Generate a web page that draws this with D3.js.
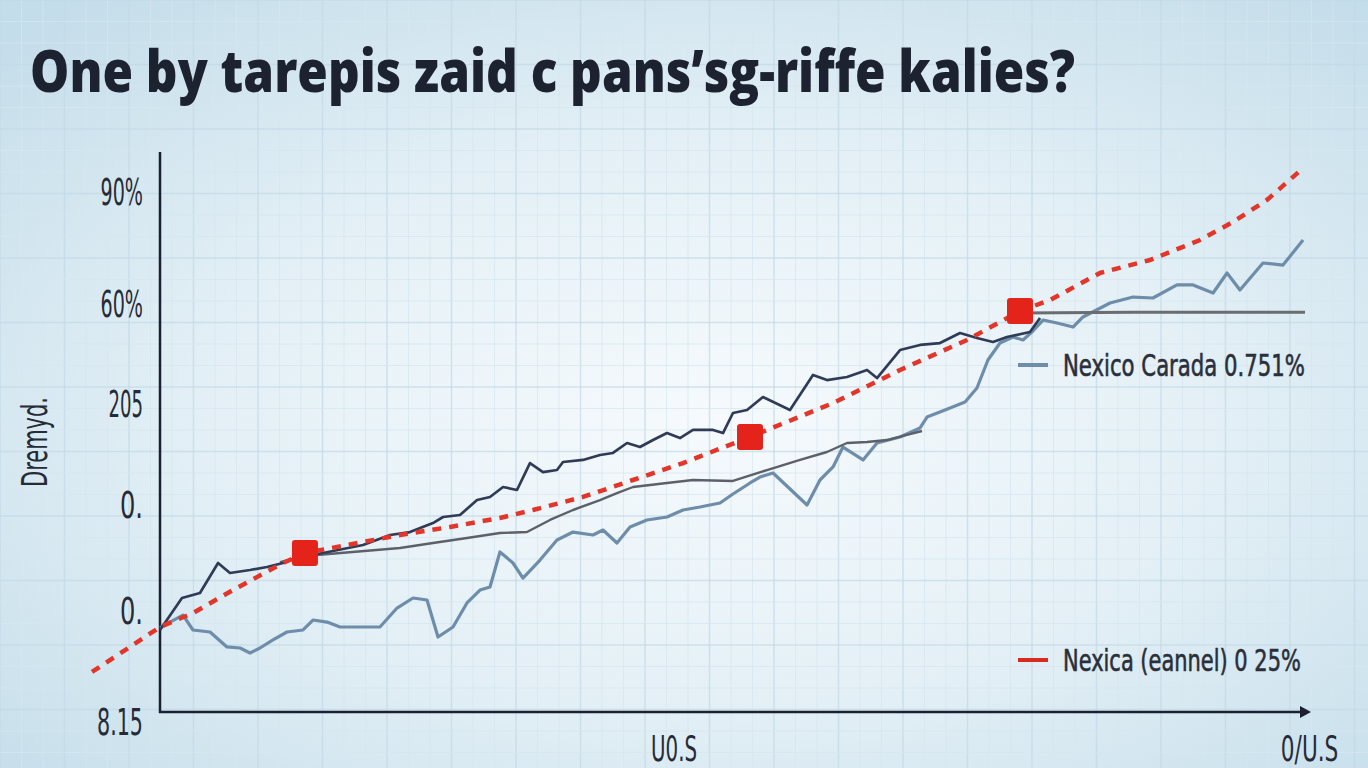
<!DOCTYPE html>
<html><head><meta charset="utf-8">
<script src="https://cdn.jsdelivr.net/npm/d3@7"></script>
<style>html,body{margin:0;padding:0;overflow:hidden;background:#d6e9f2}</style>
</head><body>
<svg id="c" width="1368" height="768"></svg>
<script>
// ---- data ----
const titleText = "One by tarepis zaid c pans\u2019sg-riffe kalies?";
const yAxisTitle = "Dremyd.";
const yTickValues = [0, 1.05, 2.05, 3, 3.94, 5.0];
const yTickLabels = ["8.15", "0.", "0.", "205", "60%", "90%"];
const xTickValues = [44.9, 100.4];
const xTickLabels = ["U0.S", "0/U.S"];
const legendLabels = ["Nexico Carada 0.751%", "Nexica (eannel) 0 25%"];

const navySeries = [[0,0.868],[1.92,1.17],[3.49,1.217],[5.07,1.50],[6.11,1.406],[7.86,1.434],[9.34,1.462],[10.74,1.50],[12.23,1.557],[14.24,1.594],[17.73,1.67],[20.09,1.764],[21.83,1.792],[23.84,1.877],[24.72,1.934],[26.2,1.953],[27.69,2.094],[28.82,2.123],[29.96,2.217],[31.18,2.189],[32.31,2.443],[33.45,2.358],[34.67,2.377],[35.2,2.453],[36.94,2.472],[38.43,2.519],[39.56,2.538],[40.79,2.632],[41.92,2.594],[43.06,2.66],[44.28,2.726],[45.41,2.679],[46.55,2.755],[48.3,2.755],[49.17,2.726],[50.04,2.915],[51.27,2.943],[52.66,3.066],[55.02,2.943],[57.03,3.274],[58.25,3.226],[60.0,3.255],[61.75,3.321],[62.62,3.245],[64.63,3.509],[66.38,3.557],[68.12,3.575],[69.87,3.67],[71.35,3.623],[72.75,3.585],[73.97,3.632],[75.98,3.679],[76.86,3.811]];
const flatSeries = [[75.1,3.858],[85,3.866],[100,3.866]];
const graySeries = [[10.48,1.509],[12.66,1.566],[20.96,1.642],[23.84,1.689],[26.81,1.736],[29.69,1.783],[32.05,1.792],[34.06,1.906],[36.07,2.0],[38.43,2.094],[39.91,2.16],[41.31,2.217],[44.28,2.255],[46.55,2.283],[50.04,2.274],[53.01,2.377],[55.9,2.472],[58.25,2.547],[60.0,2.632],[61.75,2.642],[63.49,2.66],[65.24,2.708],[66.55,2.745]];
const steelSeries = [[0,0.887],[0.87,0.943],[2.01,1.009],[2.88,0.868],[4.37,0.849],[5.85,0.708],[6.99,0.698],[7.86,0.651],[8.73,0.698],[9.87,0.774],[11.09,0.849],[12.49,0.868],[13.36,0.962],[14.59,0.943],[15.72,0.896],[19.21,0.896],[20.7,1.075],[22.1,1.17],[23.32,1.151],[24.28,0.802],[25.59,0.896],[26.81,1.123],[27.95,1.245],[28.82,1.274],[29.69,1.604],[30.83,1.5],[31.7,1.358],[33.19,1.528],[34.67,1.717],[36.07,1.792],[37.82,1.764],[38.69,1.811],[39.91,1.689],[41.05,1.84],[42.53,1.906],[44.28,1.934],[45.68,2.0],[47.16,2.028],[48.91,2.066],[50.04,2.151],[51.53,2.255],[52.4,2.311],[53.54,2.349],[56.51,2.047],[57.64,2.283],[58.78,2.406],[59.65,2.594],[61.4,2.472],[62.62,2.632],[64.63,2.689],[66.38,2.774],[66.99,2.877],[68.56,2.943],[70.31,3.019],[71.35,3.151],[72.31,3.415],[73.36,3.575],[74.5,3.632],[75.37,3.604],[76.24,3.689],[77.12,3.792],[78.34,3.764],[79.74,3.726],[80.61,3.821],[82.97,3.953],[84.98,4.009],[86.72,4.0],[88.82,4.123],[90.22,4.123],[91.97,4.047],[93.19,4.236],[94.32,4.075],[96.33,4.33],[98.08,4.311],[99.83,4.547]];
const redSeries = [[-5.94,0.472],[0,0.896],[2.88,1.028],[6.38,1.245],[10.74,1.5],[12.66,1.594],[20.96,1.764],[25.33,1.84],[29.69,1.925],[32.58,2.0],[36.94,2.123],[41.31,2.283],[45.68,2.443],[51.53,2.689],[58.78,3.009],[64.63,3.321],[70.48,3.604],[75.11,3.877],[77.73,3.981],[82.1,4.236],[86.46,4.358],[90.83,4.547],[93.71,4.717],[96.68,4.925],[99.83,5.226]];
const redMarkers = [[12.66,1.594],[51.53,2.689],[75.11,3.877]];

// ---- layout ----
const W = 1368, H = 768;
const plotLeft = 160, plotRight = 1305, plotTop = 152, plotBottom = 712;
const x = d3.scaleLinear().domain([0, 100]).range([plotLeft, plotRight]);
const y = d3.scaleLinear().domain([0, 5]).range([722, 192]);

const svg = d3.select("#c");
const defs = svg.append("defs");
const rg = defs.append("radialGradient").attr("id","bg").attr("cx","52%").attr("cy","55%").attr("r","72%");
rg.append("stop").attr("offset","0%").attr("stop-color","#f6fafd");
rg.append("stop").attr("offset","50%").attr("stop-color","#e4f0f6");
rg.append("stop").attr("offset","100%").attr("stop-color","#c4ddea");
svg.append("rect").attr("width",W).attr("height",H).attr("fill","url(#bg)");

// grid
const grid = svg.append("g");
const step = 21.5;
d3.range(0, W, step).forEach((gx, i) => {
  grid.append("line").attr("x1",gx).attr("x2",gx).attr("y1",0).attr("y2",H)
    .attr("stroke", i%3===0 ? "#c3dae7" : "#d6e7f0").attr("stroke-width", i%3===0 ? 1.5 : 1).attr("opacity",0.7);
});
d3.range(0, H, step).forEach((gy, i) => {
  grid.append("line").attr("x1",0).attr("x2",W).attr("y1",gy).attr("y2",gy)
    .attr("stroke", i%3===0 ? "#c3dae7" : "#d6e7f0").attr("stroke-width", i%3===0 ? 1.5 : 1).attr("opacity",0.7);
});

// helper: place text and squeeze horizontally to a target width (anchor: start|middle|end)
function fitText(tx, ty, str, width, anchor, attrs, rotate) {
  const g = svg.append("g");
  const t = g.append("text").text(str).attr("x",0).attr("y",0);
  Object.entries(attrs).forEach(([k,v]) => t.attr(k,v));
  const len = t.node().getComputedTextLength() || width;
  const s = width / len;
  const off = anchor === "start" ? 0 : anchor === "middle" ? -width/2 : -width;
  g.attr("transform", `translate(${tx},${ty})${rotate ? ` rotate(${rotate})` : ""} translate(${off},0) scale(${s},1)`);
  return t;
}

const condFont = "'Liberation Sans Narrow','DejaVu Sans Condensed','Roboto',sans-serif";
const txtAttrs = {"font-family": condFont, "font-size": 37, "fill": "#262b36"};

// title
fitText(30, 92, titleText, 1045, "start",
  {"font-family":"'Open Sans','Liberation Sans',sans-serif","font-weight":800,"font-size":58,"fill":"#1d2230"});

// y ticks
yTickValues.forEach((v, i) => {
  const lbl = yTickLabels[i];
  fitText(143, y(v)+13, lbl, lbl.length*11.5 + (lbl.includes("%")?8:0), "end", txtAttrs);
});
// y title
fitText(47, 442, yAxisTitle, 90, "middle", {"font-family": condFont, "font-size": 36, "fill": "#262b36"}, -90);

// x ticks
xTickValues.forEach((v, i) => {
  const lbl = xTickLabels[i];
  fitText(x(v), 761, lbl, lbl.length*11.5, "middle", {"font-family": condFont, "font-size": 36, "fill": "#262b36"});
});

// axes
svg.append("line").attr("x1",plotLeft).attr("x2",plotLeft).attr("y1",plotTop).attr("y2",plotBottom+1)
  .attr("stroke","#1b2030").attr("stroke-width",2.5);
svg.append("line").attr("x1",plotLeft-1).attr("x2",1302).attr("y1",plotBottom).attr("y2",plotBottom)
  .attr("stroke","#1b2030").attr("stroke-width",2.5);
svg.append("path").attr("d",`M1300,${plotBottom-6} L1311,${plotBottom} L1300,${plotBottom+6} Z`).attr("fill","#1b2030");

const line = d3.line().x(d => x(d[0])).y(d => y(d[1]));

svg.append("path").datum(steelSeries).attr("d",line).attr("fill","none")
  .attr("stroke","#6d8daa").attr("stroke-width",3.2).attr("stroke-linejoin","round");
svg.append("path").datum(graySeries).attr("d",line).attr("fill","none")
  .attr("stroke","#5d6068").attr("stroke-width",2.4).attr("stroke-linejoin","round");
svg.append("path").datum(flatSeries).attr("d",line).attr("fill","none")
  .attr("stroke","#6a6c70").attr("stroke-width",3);
svg.append("path").datum(navySeries).attr("d",line).attr("fill","none")
  .attr("stroke","#2f3b57").attr("stroke-width",2.7).attr("stroke-linejoin","round");
svg.append("path").datum(redSeries).attr("d",line).attr("fill","none")
  .attr("stroke","#e2362a").attr("stroke-width",4.5).attr("stroke-dasharray","9,8");

svg.selectAll("rect.mk").data(redMarkers).join("rect").attr("class","mk")
  .attr("x",d => x(d[0])-13).attr("y",d => y(d[1])-13).attr("width",26).attr("height",26)
  .attr("rx",3).attr("fill","#e4231b");

// legend
const legY = [365, 660];
const legColors = ["#6d8daa", "#d92a22"];
const legLens = [242, 238];
legendLabels.forEach((t, i) => {
  svg.append("line").attr("x1",1018).attr("x2",1048).attr("y1",legY[i]).attr("y2",legY[i])
    .attr("stroke",legColors[i]).attr("stroke-width",4);
  fitText(1063, legY[i]+11, t, legLens[i], "start",
    {"font-family": condFont, "font-size": 31, "fill": "#2a2f3a", "stroke": "#2a2f3a", "stroke-width": 0.6});
});
</script>
</body></html>
